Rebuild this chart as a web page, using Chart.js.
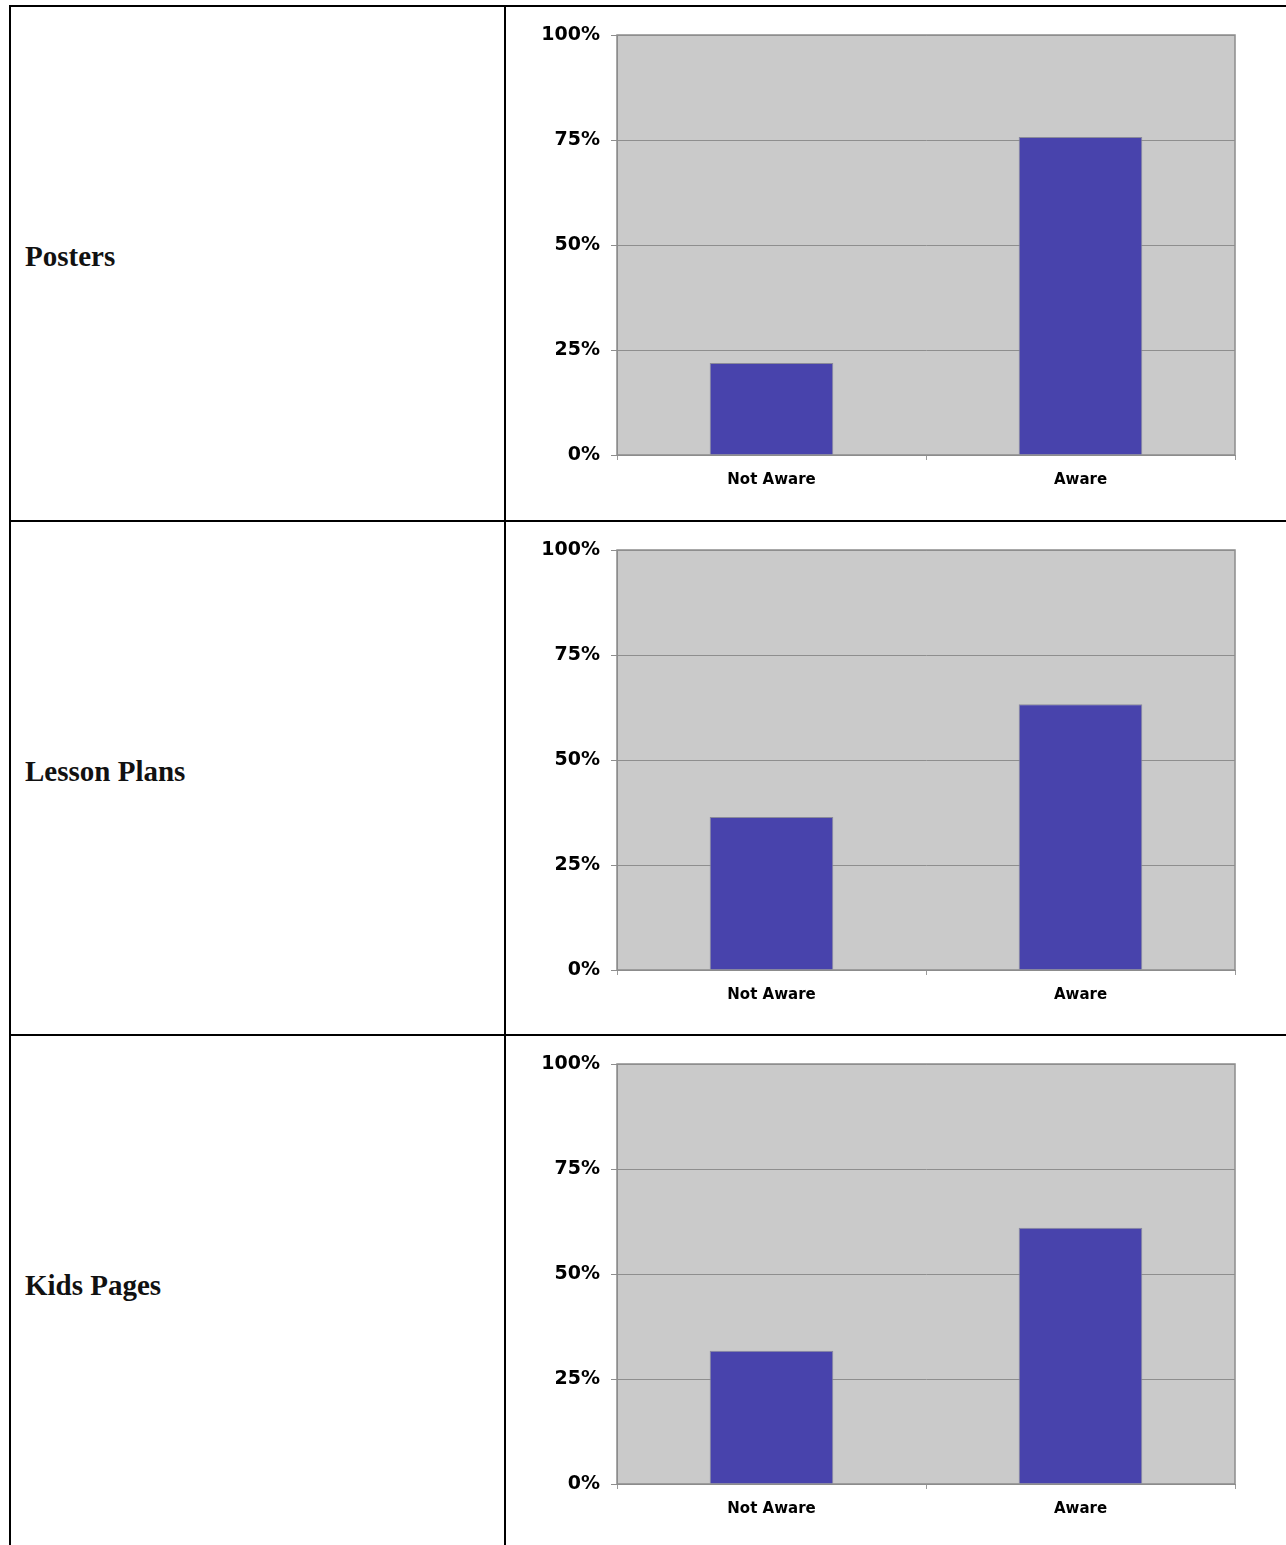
<!DOCTYPE html>
<html>
<head>
<meta charset="utf-8">
<script src="https://cdn.jsdelivr.net/npm/chart.js@4.4.1/dist/chart.umd.min.js"></script>
<style>
  body { margin: 0; background: #fff; width: 1286px; height: 1545px; overflow: hidden; position: relative; }
  .line { position: absolute; background: #000; }
  .title { position: absolute; left: 25px; height: 40px; line-height: 40px;
           font-family: "Liberation Serif", serif; font-weight: bold; font-size: 29px; color: #111; }
  canvas { position: absolute; left: 507px; }
</style>
</head>
<body>
<script>
// 行の見出し
const rowTitles = ['Posters', 'Lesson Plans', 'Kids Pages'];
// 横軸のカテゴリ
const categories = ['Not Aware', 'Aware'];
// 各グラフの値 (%)
const postersValues = [21.9, 75.7];
const lessonPlansValues = [36.4, 63.3];
const kidsPagesValues = [31.7, 61.0];
// 縦軸の目盛り
const yTicks = [0, 25, 50, 75, 100];

const allValues = [postersValues, lessonPlansValues, kidsPagesValues];
const rowY = [5, 520, 1034];

//表の罫線
function addLine(x, y, w, h) {
    const d = document.createElement('div');
    d.className = 'line';
    d.style.left = x + 'px'; d.style.top = y + 'px';
    d.style.width = w + 'px'; d.style.height = h + 'px';
    document.body.appendChild(d);
}
addLine(9, 5, 1277, 2);
addLine(9, 5, 2, 1540);
addLine(504, 5, 2, 1540);
addLine(9, 520, 1277, 2);
addLine(9, 1034, 1277, 2);

//プロット領域の背景と枠
const plotBg = {
    id: 'plotBg',
    beforeDraw(chart) {
        const a = chart.chartArea, ctx = chart.ctx;
        ctx.save();
        ctx.fillStyle = '#cacaca';
        ctx.fillRect(a.left, a.top, a.right - a.left, a.bottom - a.top);
        ctx.strokeStyle = '#8c8c8c';
        ctx.lineWidth = 1.5;
        ctx.strokeRect(a.left, a.top, a.right - a.left, a.bottom - a.top);
        ctx.restore();
    }
};

Chart.defaults.font.family = '"DejaVu Sans", Verdana, sans-serif';
Chart.defaults.font.weight = 'bold';
Chart.defaults.color = '#000';

for (let i = 0; i < rowTitles.length; i++) {
    const t = document.createElement('div');
    t.className = 'title';
    t.style.top = (rowY[i] + 231) + 'px';
    t.textContent = rowTitles[i];
    document.body.appendChild(t);

    const cv = document.createElement('canvas');
    cv.width = 779; cv.height = 511;
    cv.style.top = (rowY[i] + 2) + 'px';
    document.body.appendChild(cv);

    new Chart(cv, {
        type: 'bar',
        data: {
            labels: categories,
            datasets: [{
                data: allValues[i],
                backgroundColor: '#4843ac',
                borderColor: '#8a8a9a',
                borderWidth: 1,
                categoryPercentage: 0.4,
                barPercentage: 1
            }]
        },
        plugins: [plotBg],
        options: {
            responsive: false,
            animation: false,
            devicePixelRatio: 1,
            layout: { padding: { top: 28, right: 51, left: 0, bottom: 0 } },
            plugins: { legend: { display: false }, tooltip: { enabled: false } },
            scales: {
                x: {
                    afterFit(s) { s.height = 63; },
                    grid: { offset: true, drawOnChartArea: false, tickLength: 5, color: '#9a9a9a' },
                    border: { display: true, color: '#8c8c8c' },
                    ticks: { font: { size: 15 }, padding: 11 }
                },
                y: {
                    min: 0, max: 100,
                    afterFit(s) { s.width = 110; },
                    afterBuildTicks(s) { s.ticks = yTicks.map(v => ({ value: v })); },
                    grid: { color: '#8e8e8e', tickLength: 6 },
                    border: { display: true, color: '#8c8c8c' },
                    ticks: { font: { size: 19 }, padding: 11, callback: v => v + '%' }
                }
            }
        }
    });
}
</script>
</body>
</html>
